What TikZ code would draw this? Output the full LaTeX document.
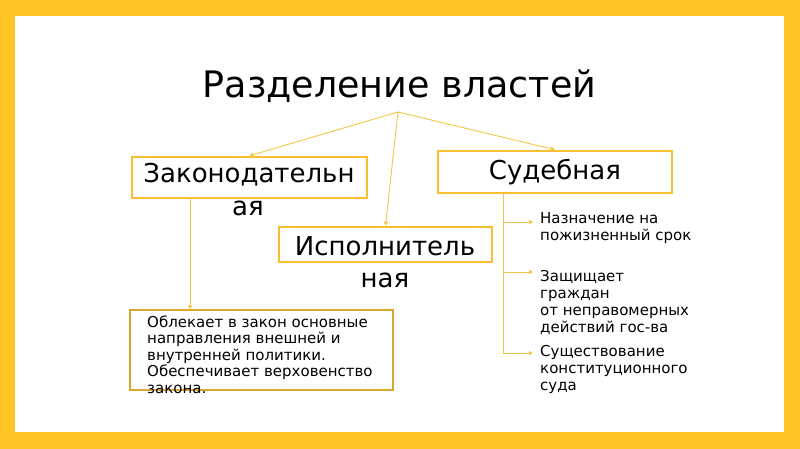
\documentclass[tikz,border=0pt]{standalone}
\usepackage{fontspec}
\setmainfont{DejaVu Sans}
\usetikzlibrary{arrows.meta}
\definecolor{frameY}{RGB}{255,196,37}
\definecolor{boxY}{RGB}{248,192,48}
\definecolor{descY}{RGB}{215,168,45}
\definecolor{lineY}{RGB}{242,198,70}
\begin{document}
\begin{tikzpicture}[x=1pt,y=-1pt,
  box/.style={draw=boxY, line width=2.5pt, rectangle, inner sep=0},
  descbox/.style={draw=descY, line width=1.2pt, rectangle, inner sep=0},
  big/.style={inner sep=0, font=\fontsize{26}{32}\selectfont},
  small/.style={inner sep=0, align=left, font=\fontsize{15}{17}\selectfont},
  line/.style={draw=lineY, line width=0.9pt},
  conn/.style={line, -{Triangle[length=4pt,width=4pt]}}]
\useasboundingbox (0,0) rectangle (800,449);
\fill[frameY] (0,0) rectangle (800,449);
\fill[white] (15,16) rectangle (784,432);
% title
\node[inner sep=0, anchor=base, font=\fontsize{36.5}{42}\selectfont] (title) at (399.5,98) {Разделение властей};
\coordinate (apex) at (398,112);
% boxes
\node[box, minimum width=235, minimum height=41] (zak) at (249.5,177.5) {};
\node[box, minimum width=234, minimum height=42] (sud) at (555,172) {};
\node[box, minimum width=213, minimum height=35] (isp) at (385.5,244.5) {};
\node[descbox, minimum width=263, minimum height=80] (desc) at (261.5,350) {};
% box texts
\node[big, anchor=base] (zakt) at (249,183) {Законодательн};
\node[big, anchor=base] (zakt2) at (248,215) {ая};
\node[big, anchor=base] (sudt) at (555,180) {Судебная};
\node[big, anchor=base] (ispt) at (385,255) {Исполнитель};
\node[big, anchor=base] (ispt2) at (385,287) {ная};
\node[small, anchor=base west, font=\fontsize{15}{16.5}\selectfont] (desct) at (147,393) {Облекает в закон основные\\направления внешней и\\внутренней политики.\\Обеспечивает верховенство\\закона.};
% right texts
\node[small, anchor=base west] (r1) at (540,240) {Назначение на\\пожизненный срок};
\node[small, anchor=base west] (r2) at (540,332) {Защищает\\граждан\\от неправомерных\\действий гос-ва};
\node[small, anchor=base west] (r3) at (540,390) {Существование\\конституционного\\суда};
% connectors from title
\draw[conn] (apex) -- (zak.north);
\draw[conn] (apex) -- (isp.north);
\draw[conn] (apex) -- (sud.north);
% legislative to description
\draw[conn] ([xshift=-59.5]zak.south) -- ([xshift=-59.5]zak.south |- desc.north);
% judicial branches
\coordinate (sudv) at ([xshift=-52]sud.south);
\coordinate (t1) at (533,222);
\coordinate (t2) at (533,272);
\coordinate (t3) at (533,353);
\draw[line] (sudv) -- (sudv |- t3);
\draw[conn] (sudv |- t1) -- (t1);
\draw[conn] (sudv |- t2) -- (t2);
\draw[conn] (sudv |- t3) -- (t3);
\end{tikzpicture}
\end{document}
